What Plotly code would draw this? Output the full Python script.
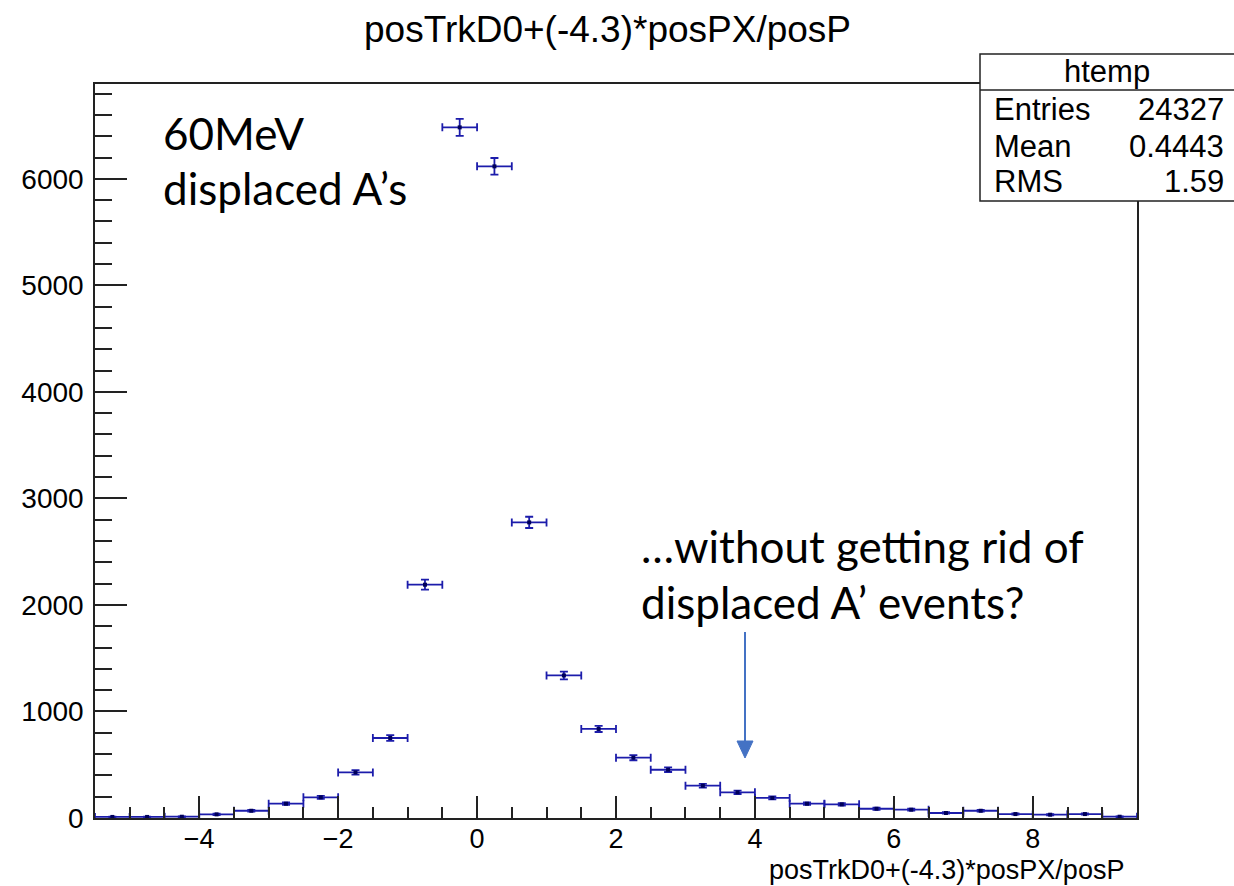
import numpy as np
import plotly.graph_objects as go

# ---- data ----
bin_centers = [-5.25, -4.75, -4.25, -3.75, -3.25, -2.75, -2.25, -1.75, -1.25, -0.75,
               -0.25, 0.25, 0.75, 1.25, 1.75, 2.25, 2.75, 3.25, 3.75, 4.25,
               4.75, 5.25, 5.75, 6.25, 6.75, 7.25, 7.75, 8.25, 8.75, 9.25]
counts = [10, 10, 12, 34, 68, 134, 194, 428, 751, 2190,
          6483, 6117, 2775, 1338, 836, 566, 453, 303, 241, 188,
          134, 128, 87, 78, 47, 68, 37, 31, 37, 12]
half_width = [0.25] * len(bin_centers)
count_err = [float(np.sqrt(c)) for c in counts]

title_text = "posTrkD0+(-4.3)*posPX/posP"
stats_labels = ["Entries", "Mean", "RMS"]
stats_values = ["24327", "0.4443", "1.59"]

# ---- layout geometry ----
W, H = 1234, 886
L, R, T, B = 95, 97, 84, 68
PW, PH = W - L - R, H - T - B

def px(x):
    return (x - L) / PW

def py(y):
    return (H - B - y) / PH

blue = "#1c1cab"
FONT = "Liberation Sans, Arial, sans-serif"
ANN_FONT = "Lato, Carlito, Calibri, sans-serif"

fig = go.Figure()
fig.add_trace(go.Scatter(
    x=bin_centers, y=counts, mode="markers",
    marker=dict(symbol="square", size=4, color="#00005a"),
    error_x=dict(type="data", array=half_width, color=blue, thickness=1.8, width=4),
    error_y=dict(type="data", array=count_err, color=blue, thickness=1.8, width=4),
    showlegend=False, hoverinfo="skip",
))

fig.update_layout(
    width=W, height=H,
    margin=dict(l=L, r=R, t=T, b=B, pad=0),
    paper_bgcolor="white", plot_bgcolor="white",
    font=dict(family=FONT, size=28, color="black"),
    xaxis=dict(range=[-5.5, 9.5], dtick=2, tick0=0, ticks="inside", ticklen=22,
               tickwidth=1.5, tickcolor="#222", showline=True, linecolor="#222",
               linewidth=1.5, mirror=True, showgrid=False, zeroline=False,
               tickfont=dict(size=27, family=FONT), ticklabelstandoff=-4,
               minor=dict(dtick=0.5, tick0=0, ticks="inside", ticklen=11,
                          tickwidth=1.5, tickcolor="#222", showgrid=False)),
    yaxis=dict(range=[0, 6890], dtick=1000, ticks="inside", ticklen=32,
               tickwidth=1.5, tickcolor="#222", showline=True, linecolor="#222",
               linewidth=1.5, mirror=True, showgrid=False, zeroline=False,
               tickfont=dict(size=28, family=FONT), ticklabelstandoff=4,
               minor=dict(dtick=200, tick0=0, ticks="inside", ticklen=17,
                          tickwidth=1.5, tickcolor="#222", showgrid=False)),
)

shapes = []
anns = []

# Title
anns.append(dict(x=px(607), y=py(30), xref="paper", yref="paper", text=title_text,
                 showarrow=False, xanchor="center", yanchor="middle",
                 font=dict(size=37, family=FONT, color="black")))
# X-axis title
anns.append(dict(x=px(1126), y=py(870), xref="paper", yref="paper", text=title_text,
                 showarrow=False, xanchor="right", yanchor="middle",
                 font=dict(size=27, family=FONT, color="black")))

# Stats box
shapes.append(dict(type="rect", xref="paper", yref="paper", x0=px(980), x1=px(1245),
                   y0=py(201), y1=py(54), line=dict(color="#222", width=1.5),
                   fillcolor="white", layer="above"))
shapes.append(dict(type="line", xref="paper", yref="paper", x0=px(980), x1=px(1245),
                   y0=py(90), y1=py(90), line=dict(color="#222", width=1.5), layer="above"))
anns.append(dict(x=px(1107), y=py(72), xref="paper", yref="paper", text="htemp",
                 showarrow=False, xanchor="center", yanchor="middle",
                 font=dict(size=31, family=FONT, color="black")))
for i, (lab, val) in enumerate(zip(stats_labels, stats_values)):
    yc = [110, 146, 181][i]
    anns.append(dict(x=px(992), y=py(yc), xref="paper", yref="paper", text=lab,
                     showarrow=False, xanchor="left", yanchor="middle",
                     font=dict(size=31, family=FONT, color="black")))
    anns.append(dict(x=px(1226), y=py(yc), xref="paper", yref="paper", text=val,
                     showarrow=False, xanchor="right", yanchor="middle",
                     font=dict(size=31, family=FONT, color="black")))

# Slide annotations
anns.append(dict(x=px(161), y=py(133), xref="paper", yref="paper", text="60MeV",
                 showarrow=False, xanchor="left", yanchor="middle",
                 font=dict(size=44, family=ANN_FONT, color="black")))
anns.append(dict(x=px(161), y=py(188), xref="paper", yref="paper", text="displaced A’s",
                 showarrow=False, xanchor="left", yanchor="middle",
                 font=dict(size=44, family=ANN_FONT, color="black")))
anns.append(dict(x=px(639), y=py(546), xref="paper", yref="paper", text="…without getting rid of",
                 showarrow=False, xanchor="left", yanchor="middle",
                 font=dict(size=44, family=ANN_FONT, color="black")))
anns.append(dict(x=px(639), y=py(602), xref="paper", yref="paper", text="displaced A’ events?",
                 showarrow=False, xanchor="left", yanchor="middle",
                 font=dict(size=44, family=ANN_FONT, color="black")))

# Arrow
arrow_col = "#4472C4"
shapes.append(dict(type="line", xref="paper", yref="paper", x0=px(745), x1=px(745),
                   y0=py(632), y1=py(744), line=dict(color=arrow_col, width=2)))
shapes.append(dict(type="path", xref="paper", yref="paper",
                   path=f"M {px(737)} {py(741)} L {px(753)} {py(741)} L {px(745)} {py(758)} Z",
                   fillcolor=arrow_col, line=dict(color=arrow_col, width=1)))

fig.update_layout(shapes=shapes, annotations=anns)
fig.write_html("out.html")
